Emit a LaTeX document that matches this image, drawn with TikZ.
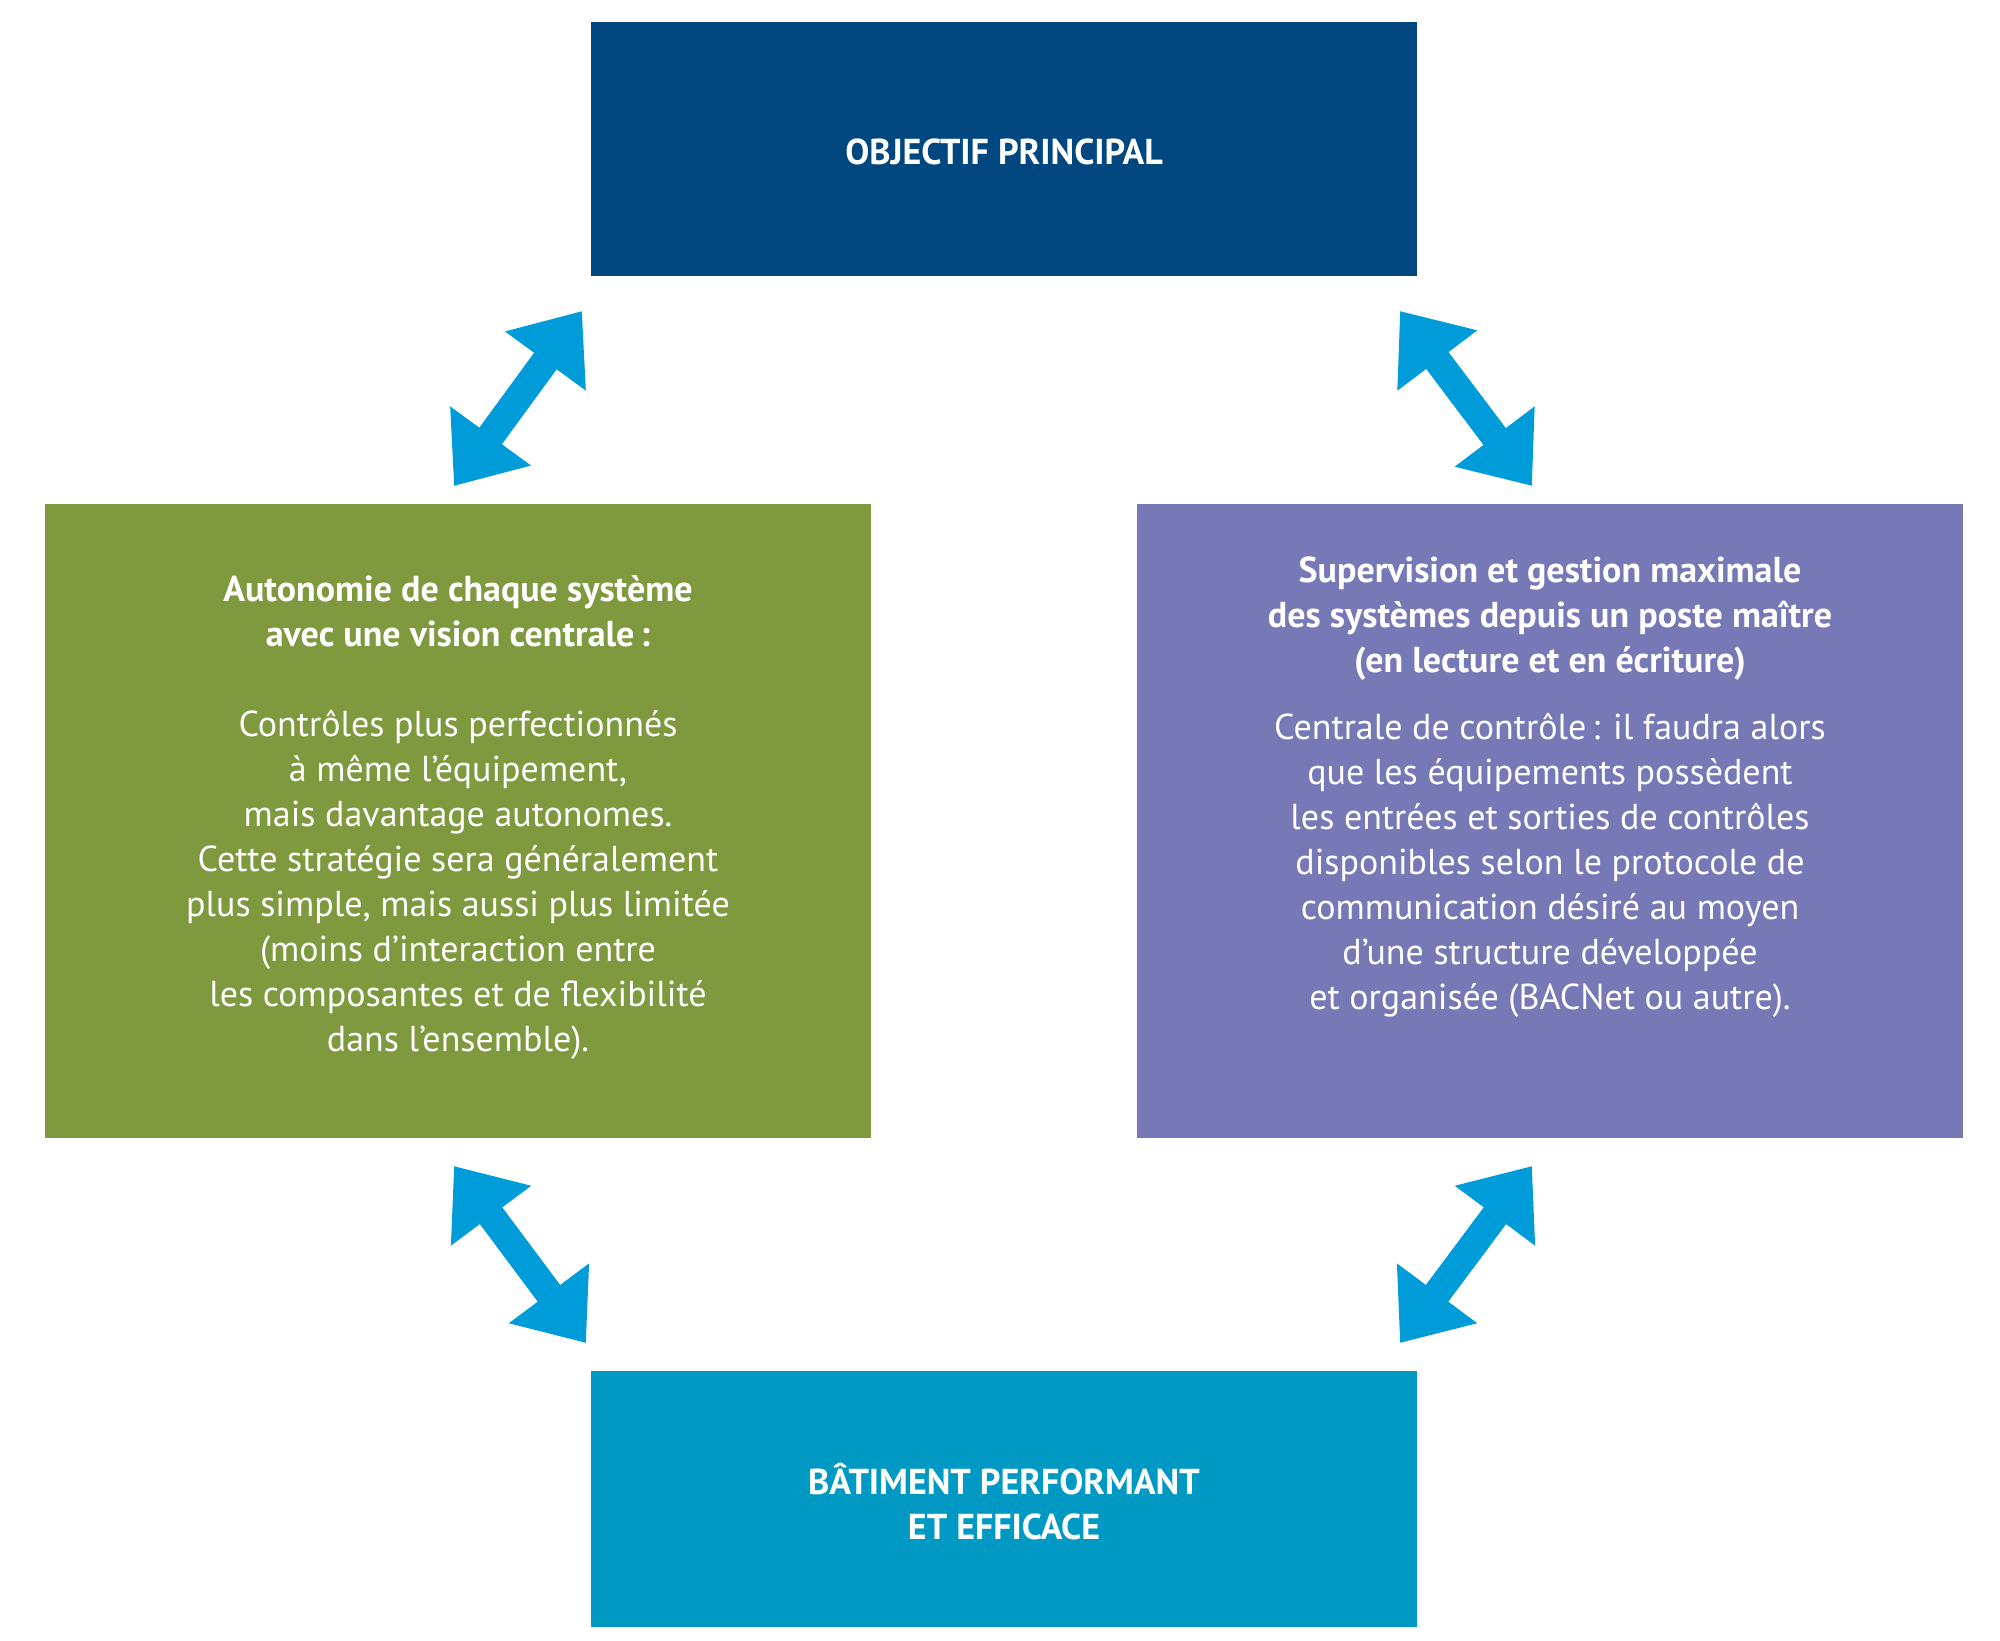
\documentclass[tikz,border=0pt]{standalone}
\usepackage{fontspec}
\setmainfont{PT Sans}
\usetikzlibrary{arrows.meta}
\definecolor{cTop}{HTML}{00477F}
\definecolor{cGreen}{HTML}{7F993F}
\definecolor{cPurple}{HTML}{7779B7}
\definecolor{cBot}{HTML}{0099C4}
\definecolor{cArrow}{HTML}{009CDA}
\tikzset{
  box/.style={fill=#1, draw=none},
  label/.style={text=white, align=center, font=\fontsize{36}{45}\selectfont},
  biarrow/.style={draw=cArrow, line width=28pt, {Triangle[width=96pt,length=62pt]}-{Triangle[width=96pt,length=62pt]}}
}
\begin{document}
\begin{tikzpicture}[x=1pt,y=-1pt]
\useasboundingbox (0,0) rectangle (2000,1641);
\fill[cTop] (591,22) rectangle (1417,276);
\fill[cGreen] (45,504) rectangle (871,1138);
\fill[cPurple] (1137,504) rectangle (1963,1138);
\fill[cBot] (591,1371) rectangle (1417,1627);
\node[label] (top) at (1004,152) {\bfseries OBJECTIF PRINCIPAL};
\node[label] (bot) at (1004,1502) {\bfseries BÂTIMENT PERFORMANT\\\bfseries ET EFFICACE};
\node[label, anchor=north] (left) at (458,572) {\bfseries Autonomie de chaque système\\\bfseries avec une vision centrale\,:\\[45pt]
Contrôles plus perfectionnés\\à même l’équipement,\\mais davantage autonomes.\\Cette stratégie sera généralement\\plus simple, mais aussi plus limitée\\(moins d’interaction entre\\les composantes et de flexibilité\\dans l’ensemble).};
\node[label, anchor=north] (right) at (1550,553) {\bfseries Supervision et gestion maximale\\\bfseries des systèmes depuis un poste maître\\\bfseries (en lecture et en écriture)\\[22pt]
Centrale de contrôle\,: il faudra alors\\que les équipements possèdent\\les entrées et sorties de contrôles\\disponibles selon le protocole de\\communication désiré au moyen\\d’une structure développée\\et organisée (BACNet ou autre).};
\coordinate (a1) at (582,311); \coordinate (a2) at (454,486);
\coordinate (b1) at (1400,311); \coordinate (b2) at (1532,486);
\coordinate (c1) at (454,1166); \coordinate (c2) at (586,1343);
\coordinate (d1) at (1532,1166); \coordinate (d2) at (1400,1343);
\draw[biarrow] (a1) -- (a2);
\draw[biarrow] (b1) -- (b2);
\draw[biarrow] (c1) -- (c2);
\draw[biarrow] (d1) -- (d2);
\end{tikzpicture}
\end{document}
